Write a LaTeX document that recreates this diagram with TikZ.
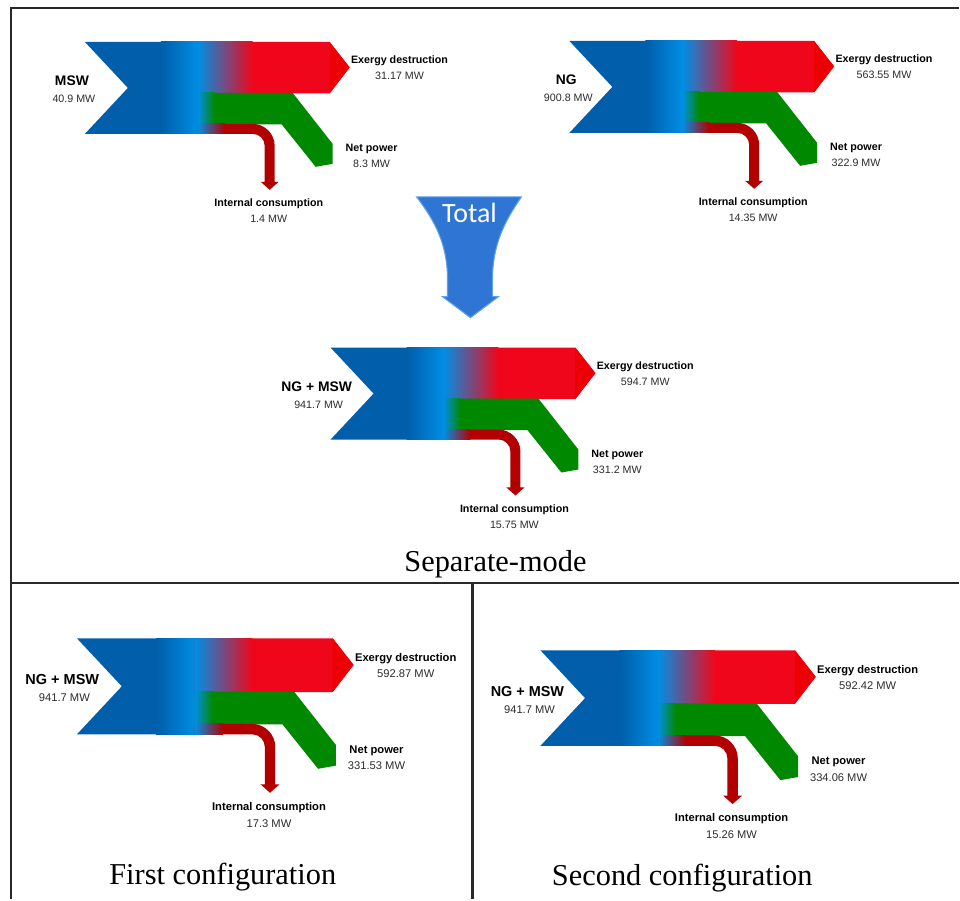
\documentclass[tikz,border=0pt]{standalone}
\usepackage{fontspec}
\setmainfont{Liberation Serif}
\setsansfont{Liberation Sans}
\newfontfamily\totalfont{Carlito}
\usetikzlibrary{arrows.meta}

\definecolor{sbBlueA}{RGB}{0,94,170}
\definecolor{sbBlueB}{RGB}{0,142,228}
\definecolor{sbMix}{RGB}{165,125,145}
\definecolor{sbRed}{RGB}{240,6,26}
\definecolor{sbRedTip}{RGB}{236,0,6}
\definecolor{sbGreen}{RGB}{0,136,0}
\definecolor{sbPink}{RGB}{200,105,115}
\definecolor{sbDark}{RGB}{178,0,0}
\definecolor{sbText}{RGB}{45,45,45}
\definecolor{sbFrame}{RGB}{40,40,40}
\definecolor{sbTotal}{RGB}{46,117,212}
\definecolor{sbTotalEdge}{RGB}{95,160,232}

\tikzset{
  flowlabel/.style={font=\sffamily\bfseries\fontsize{6.1}{7}\selectfont, anchor=base, inner sep=0pt},
  flowvalue/.style={font=\sffamily\fontsize{6.1}{7}\selectfont, text=sbText, anchor=base, inner sep=0pt},
  sourcelabel/.style={font=\sffamily\bfseries\fontsize{7.9}{9}\selectfont, anchor=base, inner sep=0pt},
  modetitle/.style={font=\fontsize{17.3}{20}\selectfont, anchor=base, inner sep=0pt},
  frameline/.style={draw=sbFrame, line width=1.2pt},
  pics/sankey/.style n args={6}{code={
    \fill[sbBlueA] (0,0) -- (113.5,0) -- (113.5,92) -- (0,92) -- (43,46) -- cycle;
    \shade[left color=sbBlueA, right color=sbBlueB] (76,0) rectangle (113.5,92);
    \fill[sbRed] (113,0) -- (245,0) -- (265,25.5) -- (245,51.5) -- (113,51.5) -- cycle;
    \fill[sbRedTip] (245,0) -- (265,25.5) -- (245,51.5) -- cycle;
    \shade[left color=sbBlueB, middle color=sbMix, right color=sbRed] (113,0) rectangle (168,51.5);
    \fill[sbGreen] (113,51) -- (208,51) -- (248,102) -- (248,122) -- (231,125) -- (197,82.5) -- (113,82.5) -- cycle;
    \shade[left color=sbBlueB, right color=sbGreen] (113,51) rectangle (130,82.5);
    \fill[sbDark] (113,82) -- (168,82) .. controls (180,82) and (190,92) .. (190,104) -- (190,140)
      -- (194,140) -- (185,148) -- (176,140) -- (180,140) -- (180,104)
      .. controls (180,97.4) and (174.6,92) .. (168,92) -- (113,92) -- cycle;
    \shade[left color=sbBlueB, middle color=sbPink, right color=sbDark] (113,82) rectangle (140,92);
    \node[sourcelabel] (src) at (#6,44) {#1};
    \node[flowvalue] (srcval) at (#6+2,61) {#2};
    \node[flowlabel] (exlbl) at (315,22) {Exergy destruction};
    \node[flowvalue] (exval) at (315,38) {#3};
    \node[flowlabel] (netlbl) at (287,110) {Net power};
    \node[flowvalue] (netval) at (287,126) {#4};
    \node[flowlabel] (intlbl) at (184,165) {Internal consumption};
    \node[flowvalue] (intval) at (184,181) {#5};
  }}
}

\begin{document}
\begin{tikzpicture}[x=0.02cm, y=-0.02cm]
  \fill[white] (0,0) rectangle (960,900);
  \draw[frameline] (960,8) -- (11,8) -- (11,900);
  \draw[frameline] (11,584) -- (960,584);
  \draw[frameline] (473,584) -- (473,900);

  \pic (msw) at (85,42) {sankey={MSW}{40.9 MW}{31.17 MW}{8.3 MW}{1.4 MW}{-13}};
  \pic (ng) at (570,41) {sankey={NG}{900.8 MW}{563.55 MW}{322.9 MW}{14.35 MW}{-3}};
  \pic (sep) at (331,348) {sankey={NG + MSW}{941.7 MW}{594.7 MW}{331.2 MW}{15.75 MW}{-14}};
  \pic[scale=1.045, transform shape] (first) at (77,639) {sankey={NG + MSW}{941.7 MW}{592.87 MW}{331.53 MW}{17.3 MW}{-14}};
  \pic[scale=1.04, transform shape] (second) at (541,651) {sankey={NG + MSW}{941.7 MW}{592.42 MW}{334.06 MW}{15.26 MW}{-12.5}};

  \filldraw[fill=sbTotal, draw=sbTotalEdge, line width=0.6pt] (417,197) -- (522,197)
    .. controls (505,222) and (493,245) .. (493,280) -- (493,297) -- (499,297) -- (471,318)
    -- (443,297) -- (448,297) -- (448,280) .. controls (448,245) and (436,222) .. (417,197) -- cycle;
  \node[font=\totalfont\fontsize{15.9}{18}\selectfont, text=white, anchor=base, inner sep=0pt] (total) at (470,223) {Total};

  \node[modetitle] (sepmode) at (496,572) {Separate-mode};
  \node[modetitle] (firstcfg) at (223,885) {First configuration};
  \node[modetitle] (secondcfg) at (683,886) {Second configuration};
\end{tikzpicture}
\end{document}
